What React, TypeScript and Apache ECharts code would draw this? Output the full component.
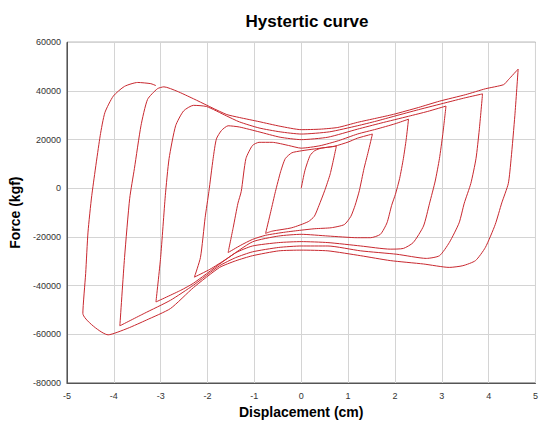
import React, { useEffect, useRef } from "react";
import * as echarts from "echarts";

// Displacement (cm), Force (kgf) pairs, in loading order
const initialLoad: number[][] = [[0, 0], [0.08, 7400], [0.19, 13500], [0.29, 15500], [0.43, 16500], [0.75, 17300]];
const unload1: number[][] = [[0.62, 6000], [0.5, -1000], [0.38, -7000], [0.28, -11500], [0.15, -13700], [-0.2, -16200], [-0.62, -17600], [-0.76, -18500]];
const reload1: number[][] = [[-0.65, -9600], [-0.55, -1300], [-0.44, 6800], [-0.34, 12200], [-0.2, 14600], [0, 15400], [0.29, 16200], [0.71, 17300], [1.0, 19000], [1.2, 20600], [1.52, 22300]];
const unload2: number[][] = [[1.43, 15000], [1.34, 8100], [1.24, -1000], [1.15, -7000], [1.06, -11500], [0.92, -14900], [0.64, -16200], [0.29, -16600], [0, -17200], [-0.34, -18000], [-0.76, -19300], [-1.04, -21000], [-1.3, -23500], [-1.56, -26400]];
const reload2: number[][] = [[-1.45, -16000], [-1.35, -6100], [-1.28, -1300], [-1.18, 12200], [-1.04, 17600], [-0.9, 18900], [-0.62, 18900], [-0.27, 17600], [0, 16500], [0.4, 17500], [0.8, 19600], [1.2, 22300], [1.6, 24300], [2.0, 26500], [2.29, 28400]];
const unload3: number[][] = [[2.24, 20000], [2.18, 12200], [2.1, 4000], [2.01, -2500], [1.93, -7000], [1.83, -14200], [1.69, -18900], [1.48, -20300], [1.2, -20300], [0.57, -19600], [0, -18900], [-0.48, -19600], [-1.04, -22000], [-1.6, -29100], [-1.95, -33300], [-2.28, -36500]];
const reload3: number[][] = [[-2.15, -28400], [-2.05, -12000], [-1.97, -1300], [-1.88, 12200], [-1.81, 20300], [-1.7, 23800], [-1.56, 25700], [-1.32, 25200], [-0.9, 23200], [-0.45, 21000], [0, 20000], [0.57, 21000], [1.2, 24300], [1.7, 26800], [2.29, 29600], [2.7, 31600], [3.09, 33800]];
const unload4: number[][] = [[3.02, 22000], [2.95, 12200], [2.86, 3000], [2.74, -6100], [2.61, -15500], [2.39, -22300], [2.18, -24700], [1.9, -25000], [1.27, -23700], [0.57, -22300], [0, -21900], [-0.48, -22300], [-1.04, -23700], [-1.4, -26500], [-1.74, -31100], [-2.3, -39000], [-2.57, -41900], [-3.1, -46700]];
const reload4: number[][] = [[-3.0, -28400], [-2.9, -3000], [-2.82, 12200], [-2.68, 25700], [-2.51, 31800], [-2.3, 34100], [-2.02, 33600], [-1.6, 29800], [-1.32, 27300], [-0.9, 24800], [-0.45, 23200], [0, 22300], [0.6, 23200], [1.2, 25700], [1.6, 27600], [2.0, 29700], [2.5, 32300], [3.09, 35200], [3.5, 37200], [3.87, 38800]];
const unload5: number[][] = [[3.8, 24000], [3.73, 12200], [3.62, 2000], [3.48, -6100], [3.37, -14200], [3.16, -22300], [2.95, -27700], [2.67, -28800], [2.04, -27100], [1.27, -25700], [0.57, -23700], [0, -23700], [-0.48, -24300], [-1.04, -26100], [-1.4, -28500], [-1.74, -31800], [-2.3, -39800], [-2.79, -46000], [-3.35, -51400], [-3.87, -56500]];
const reload5: number[][] = [[-3.77, -28400], [-3.66, -4100], [-3.56, 8100], [-3.42, 25700], [-3.28, 36500], [-3.07, 40900], [-2.93, 41700], [-2.65, 39900], [-2.3, 36800], [-1.6, 30400], [-1.32, 29100], [-0.9, 27400], [-0.45, 25500], [0, 24100], [0.4, 24300], [0.78, 25000], [1.2, 27100], [1.6, 28800], [1.97, 30400], [2.5, 33200], [2.95, 35800], [3.51, 38500], [3.93, 40900], [4.32, 42600], [4.42, 44600], [4.63, 49000]];
const unload6: number[][] = [[4.56, 30000], [4.48, 12200], [4.42, 2000], [4.28, -6000], [4.14, -14900], [3.93, -24300], [3.72, -29700], [3.45, -31800], [3.16, -32500], [2.61, -31100], [1.9, -29700], [1.27, -27700], [0.57, -25700], [0, -25400], [-0.48, -25700], [-1.04, -27700], [-1.4, -29800], [-1.74, -32500], [-2.3, -40800], [-2.79, -49400], [-3.3, -54100], [-3.7, -57500], [-4.12, -60200], [-4.66, -51400]];
const reload6: number[][] = [[-4.6, -35000], [-4.55, -18000], [-4.47, -3000], [-4.29, 21600], [-4.19, 31100], [-4.01, 37900], [-3.77, 41900], [-3.49, 43500], [-3.21, 43000], [-3.1, 42200]];

const xTicks = { min: -5, max: 5, interval: 1 };
const yTicks = { min: -80000, max: 60000, interval: 20000 };

const path = [
  ...initialLoad, ...unload1, ...reload1, ...unload2, ...reload2, ...unload3, ...reload3,
  ...unload4, ...reload4, ...unload5, ...reload5, ...unload6, ...reload6,
];

const FONT = "'Liberation Sans', Arial, sans-serif";

export default function App() {
  const ref = useRef<HTMLDivElement>(null);
  useEffect(() => {
    if (!ref.current) return;
    const chart = echarts.init(ref.current, null, { renderer: "svg" });
    chart.setOption({
      animation: false,
      backgroundColor: "#ffffff",
      title: {
        text: "Hystertic curve",
        left: 302,
        top: 8,
        textAlign: "center",
        textStyle: { fontFamily: FONT, fontSize: 17, fontWeight: "bold", color: "#000" },
      },
      grid: {
        left: 65,
        right: 1.3,
        top: 42.3,
        bottom: 38,
        show: true,
        borderColor: "#555",
        borderWidth: 1,
      },
      xAxis: {
        type: "value",
        ...xTicks,
        name: "Displacement (cm)",
        nameLocation: "middle",
        nameGap: 22,
        nameTextStyle: { fontFamily: FONT, fontSize: 14, fontWeight: "bold", color: "#000" },
        axisLine: { show: true, onZero: false, lineStyle: { color: "#555", width: 1 } },
        axisTick: { show: false },
        axisLabel: { fontFamily: FONT, fontSize: 9, color: "#333", margin: 8, formatter: (v: number) => String(v) },
        splitLine: { show: true, lineStyle: { color: "#d4d4d4", width: 1 } },
      },
      yAxis: {
        type: "value",
        ...yTicks,
        name: "Force (kgf)",
        nameLocation: "middle",
        nameGap: 40,
        nameTextStyle: { fontFamily: FONT, fontSize: 14, fontWeight: "bold", color: "#000" },
        axisLine: { show: true, onZero: false, lineStyle: { color: "#555", width: 1 } },
        axisTick: { show: false },
        axisLabel: { fontFamily: FONT, fontSize: 9, color: "#333", margin: 6, formatter: (v: number) => String(v) },
        splitLine: { show: true, lineStyle: { color: "#d4d4d4", width: 1 } },
      },
      series: [
        {
          type: "line",
          data: path,
          showSymbol: false,
          smooth: 0.2,
          lineStyle: { color: "#c8282f", width: 1 },
        },
      ],
    });
    return () => chart.dispose();
  }, []);
  return (
    <div
      ref={ref}
      style={{ position: "absolute", left: 0, top: 0, width: 541, height: 424 }}
    />
  );
}
